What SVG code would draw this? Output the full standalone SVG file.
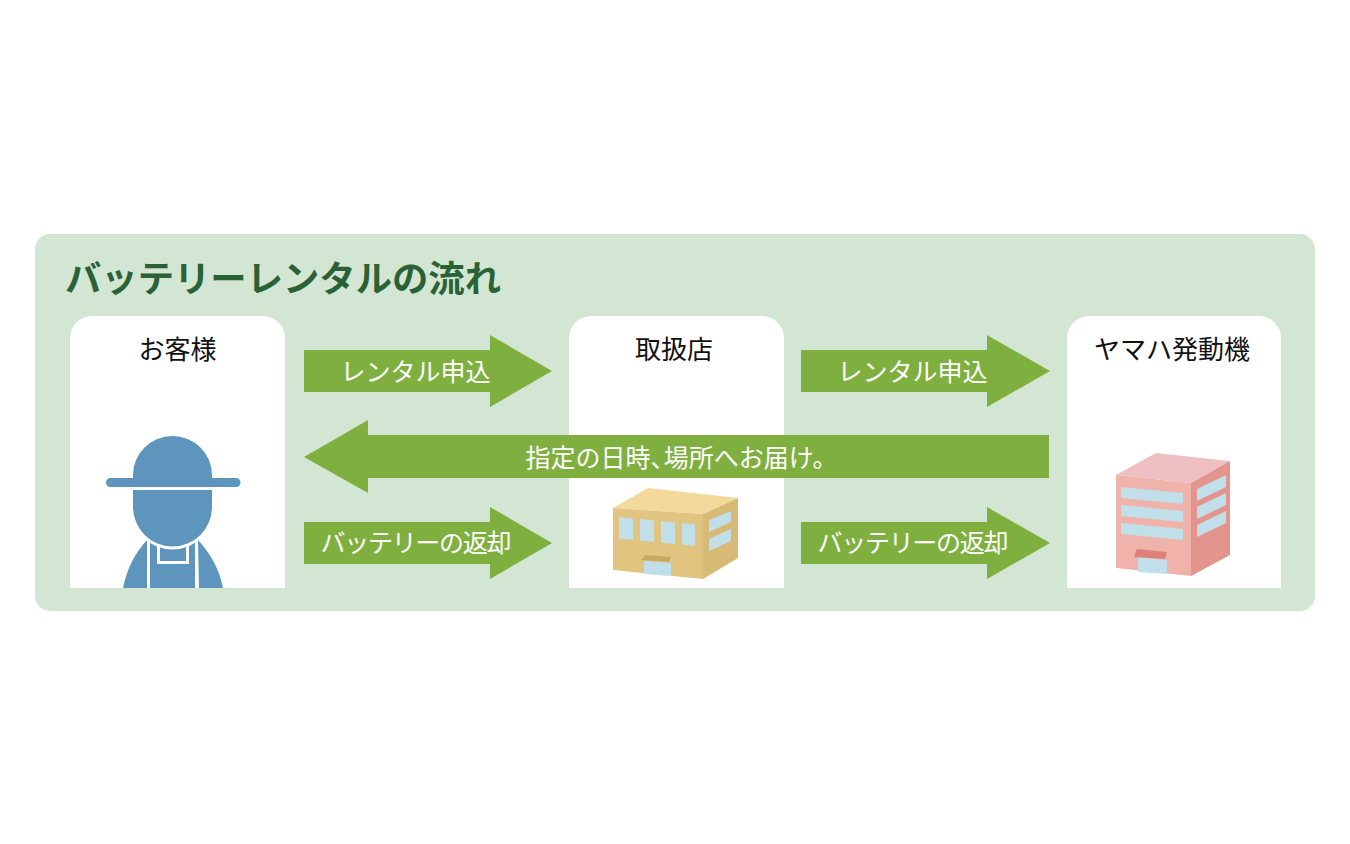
<svg xmlns="http://www.w3.org/2000/svg" width="1350" height="844" viewBox="0 0 1350 844">
<style>
text{font-family:"Noto Sans CJK JP","Noto Sans",sans-serif}
.n{font-size:26px;fill:#111;text-anchor:middle;font-weight:400}
.a{fill:#7fb03f}
.l{font-size:25px;fill:#fff;text-anchor:middle;font-weight:400}
.card{fill:#fff}
.p{fill:#5d95bc}
.g{fill:#c0dfe9}
</style>
<rect width="1350" height="844" fill="#fff"/>
<rect x="35" y="234" width="1280" height="377" rx="15" fill="#d3e6d3"/>
<text id="title" x="65" y="292" font-size="36.500" font-weight="700" fill="#2a6236" textLength="436" lengthAdjust="spacingAndGlyphs">バッテリーレンタルの流れ</text>
<g id="customer">
<path class="card" d="M70 588V338a22 22 0 0 1 22-22H263a22 22 0 0 1 22 22V588Z"/>
<text class="n" x="177.500" y="359">お客様</text>
<path class="p" d="M133 478V475a39.500 39 0 0 1 79 0V478H236a4.500 4.500 0 0 1 0 9H110.500a4.500 4.500 0 0 1 0-9Z"/>
<path class="p" d="M123 588C127 568 135 553 147 540V588Z"/>
<path class="p" d="M198 540C210 553 219 568 223 588H199Z"/>
<rect class="p" x="150" y="540" width="45" height="48"/>
<rect x="157" y="540" width="32" height="24" fill="#fff"/>
<rect class="p" x="160" y="540" width="26" height="21"/>
<path class="p" stroke="#fff" stroke-width="6" paint-order="stroke" d="M133 490H212V507a39.500 39.500 0 0 1-79 0Z"/>
<path d="M130 488.500H215" stroke="#fff" stroke-width="3"/>
</g>
<g id="shop">
<path class="card" d="M569 588V338a22 22 0 0 1 22-22H762a22 22 0 0 1 22 22V588Z"/>
<text class="n" x="674" y="359">取扱店</text>
<path d="M613 508L648 488L738 498L703 514Z" fill="#f3d99b"/>
<path d="M613 508L703 514V579L613 570Z" fill="#e0c47f"/>
<path d="M703 514L738 498V558L703 579Z" fill="#d6ba76"/>
<path class="g" d="M619 517L633 518.500V540L619 538.500ZM640 519L654 520.500V542L640 540.500ZM661 521L675 522.500V544L661 542.500ZM682 523L695 524.500V546L682 544.500Z"/>
<path class="g" d="M709 520L731 511V522L709 532ZM709 539L731 529V541L709 551Z"/>
<path class="g" d="M644 561L671 563V576L644 574Z"/>
<path d="M641 560L645 555L671 557L669 562Z" fill="#c9a866"/>
</g>
<g id="yamaha">
<path class="card" d="M1067 588V338a22 22 0 0 1 22-22H1259a22 22 0 0 1 22 22V588Z"/>
<text class="n" x="1172" y="359">ヤマハ発動機</text>
<path d="M1116 475L1156 453L1230 461L1191 483Z" fill="#efc0c1"/>
<path d="M1116 475L1191 483V576L1116 568Z" fill="#efb3ab"/>
<path d="M1191 483L1230 461V555L1191 576Z" fill="#e3948c"/>
<path class="g" d="M1121 487L1183 493V504L1121 498ZM1121 505L1183 511V522L1121 516ZM1121 523L1183 529V540L1121 534Z"/>
<path class="g" d="M1197 489L1226 475V487L1197 501ZM1197 507L1226 493V505L1197 519ZM1197 525L1226 511V523L1197 537Z"/>
<path class="g" d="M1138 557L1167 560V574L1138 572Z"/>
<path d="M1134 557L1137 549L1167 552L1165 559Z" fill="#de7f78"/>
</g>
<g id="connectors">
<path class="a" d="M304 350H490V335L552 371L490 407V392H304Z"/>
<path class="a" d="M801 350H987V335L1050 371L987 407V392H801Z"/>
<path class="a" d="M1049 435H368V420L304 457L368 493V478H1049Z"/>
<path class="a" d="M304 522H490V507L552 543L490 579V564H304Z"/>
<path class="a" d="M801 522H987V507L1050 543L987 579V564H801Z"/>
</g>
<g id="labels">
<text class="l" x="415.500" y="381">レンタル申込</text>
<text class="l" x="912.500" y="381">レンタル申込</text>
<text class="l" x="681.500" y="467">指定の日時、<tspan dx="-12">場所へお届け。</tspan></text>
<text class="l" x="416" y="552" textLength="191">バッテリーの返却</text>
<text class="l" x="913" y="552" textLength="191">バッテリーの返却</text>
</g>
</svg>
